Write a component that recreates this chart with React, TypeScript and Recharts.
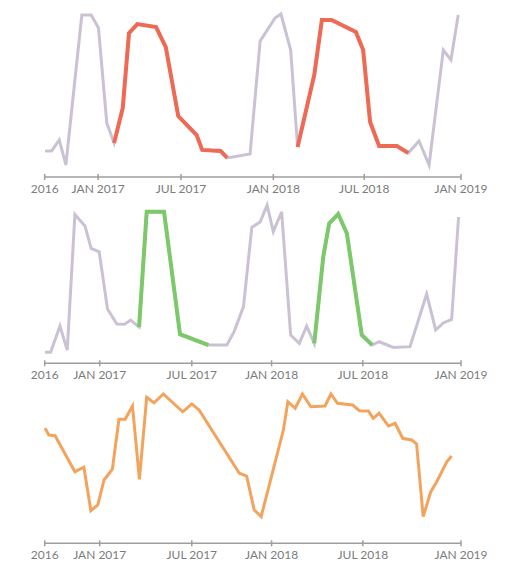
import React from 'react';
import { LineChart, Line, XAxis, YAxis } from 'recharts';

// x is measured in weeks from the first tick, y in percent of each panel's range
const tickLabels = ['2016', 'JAN 2017', 'JUL 2017', 'JAN 2018', 'JUL 2018', 'JAN 2019'];
const topTicks = [0, 15.4, 39.3, 65.9, 92.1, 120];
const lowerTicks = [0, 15.85, 42.4, 65.4, 91.7, 120];

const topWeeks = [0.1, 2.0, 4.2, 6.1, 10.7, 13.4, 15.5, 17.9, 20.0, 22.5, 24.3, 26.7, 32.1, 34.9, 38.5, 43.8, 45.4, 50.7, 52.6, 59.2, 62.1, 66.4, 68.1, 70.9, 72.9, 77.7, 79.9, 82.7, 89.7, 91.8, 93.8, 96.4, 101.5, 104.8, 107.9, 110.8, 114.9, 117.1, 119.2];
const topValues = [15.6, 15.6, 22.2, 7.2, 97.0, 97.0, 89.2, 32.3, 20.4, 41.3, 86.2, 91.6, 89.8, 77.8, 36.5, 25.1, 16.2, 15.6, 11.4, 13.8, 81.4, 95.2, 97.6, 76.0, 18.0, 61.1, 94.0, 94.0, 86.8, 76.0, 32.9, 18.6, 18.6, 14.4, 21.6, 7.2, 76.0, 70.1, 97.0];
const topHighlights = [[8, 18], [24, 33]];

const midWeeks = [0.1, 1.7, 4.4, 6.5, 8.7, 11.6, 13.4, 15.7, 18.1, 20.8, 23.0, 24.8, 27.2, 29.4, 34.4, 39.0, 47.2, 52.5, 54.6, 57.3, 59.7, 62.1, 64.1, 65.9, 68.3, 70.9, 73.4, 75.5, 77.7, 80.3, 82.0, 84.6, 87.1, 91.4, 94.4, 96.4, 100.5, 105.3, 110.1, 112.7, 114.9, 117.3, 119.3];
const midValues = [6.7, 6.7, 22.8, 8.1, 91.1, 84.1, 70.4, 68.3, 33.3, 24.1, 23.9, 26.5, 22.2, 92.8, 92.8, 17.8, 11.2, 11.2, 19.4, 34.7, 83.3, 86.5, 96.9, 80.6, 92.8, 17.3, 12.2, 22.8, 12.2, 65.3, 85.7, 91.4, 79.6, 17.3, 11.2, 13.2, 9.7, 10.2, 42.4, 20.4, 24.7, 26.9, 89.6];
const midHighlights = [[12, 16], [28, 34]];

const lowWeeks = [0.1, 1.2, 3.0, 8.7, 11.3, 13.3, 15.3, 17.1, 19.5, 21.4, 23.2, 25.3, 27.3, 29.4, 31.5, 34.2, 39.8, 42.4, 44.5, 56.1, 58.2, 60.4, 62.4, 68.8, 70.1, 72.2, 74.3, 76.7, 80.8, 82.5, 84.4, 88.8, 90.7, 93.3, 94.7, 96.4, 99.1, 101.0, 103.2, 105.8, 107.2, 109.1, 111.3, 113.0, 115.9, 117.3];
const lowValues = [75.0, 70.6, 70.2, 46.7, 49.6, 21.3, 25.0, 41.3, 48.3, 80.9, 80.9, 89.6, 41.7, 95.2, 91.7, 97.4, 85.8, 90.9, 87.0, 45.7, 43.9, 21.7, 17.4, 73.9, 92.4, 88.1, 97.4, 89.1, 89.6, 97.4, 91.3, 90.2, 86.5, 86.3, 81.5, 84.8, 76.5, 78.3, 68.5, 67.4, 64.8, 17.4, 33.7, 40.2, 53.2, 56.9];

const BASE = '#cbc1d4';
const RED = '#ef6a55';
const GREEN = '#7cc86a';
const ORANGE = '#f4a35d';

const toRows = (weeks: number[], values: number[]) => weeks.map((w, i) => ({ w, v: values[i] }));

const AxisTick = (props: any) => {
  const { x, y, payload } = props;
  const idx = props.index;
  return (
    <g>
      <line x1={x} x2={x} y1={y - 3} y2={y + 3} stroke="#9e9e9e" strokeWidth={1.5} />
      <text x={x} y={y + 16} textAnchor="middle" fontFamily="Lato" fontSize={12} fill="#7b7b7b">
        {tickLabels[idx] ?? payload.value}
      </text>
    </g>
  );
};

interface PanelProps {
  top: number;
  height: number;
  ticks: number[];
  rows: { w: number; v: number }[];
  baseColor: string;
  baseWidth: number;
  highlights?: number[][];
  highlightColor?: string;
}

const Panel: React.FC<PanelProps> = ({ top, height, ticks, rows, baseColor, baseWidth, highlights = [], highlightColor }) => (
  <div style={{ position: 'absolute', left: 0, top }}>
    <LineChart width={510} height={height} margin={{ top: 10, right: 49, bottom: 0, left: 44.7 }}>
      <XAxis
        dataKey="w"
        type="number"
        domain={[0, 120]}
        ticks={ticks}
        interval={0}
        height={23}
        tickSize={0}
        tickMargin={0}
        tickLine={false}
        axisLine={{ stroke: '#9e9e9e', strokeWidth: 1.5 }}
        tick={<AxisTick />}
      />
      <YAxis hide type="number" domain={[0, 100]} />
      <Line data={rows} dataKey="v" type="linear" stroke={baseColor} strokeWidth={baseWidth} dot={false} activeDot={false} isAnimationActive={false} />
      {highlights.map(([a, b], i) => (
        <Line
          key={i}
          data={rows.slice(a, b + 1)}
          dataKey="v"
          type="linear"
          stroke={highlightColor}
          strokeWidth={4}
          dot={false}
          activeDot={false}
          isAnimationActive={false}
        />
      ))}
    </LineChart>
  </div>
);

const App: React.FC = () => (
  <div style={{ position: 'absolute', left: 0, top: 0, width: 510, height: 562, overflow: 'hidden', background: '#fff' }}>
    <Panel top={0} height={200} ticks={topTicks} rows={toRows(topWeeks, topValues)} baseColor={BASE} baseWidth={3} highlights={topHighlights} highlightColor={RED} />
    <Panel top={190} height={196.3} ticks={lowerTicks} rows={toRows(midWeeks, midValues)} baseColor={BASE} baseWidth={3} highlights={midHighlights} highlightColor={GREEN} />
    <Panel top={380} height={186.3} ticks={lowerTicks} rows={toRows(lowWeeks, lowValues)} baseColor={ORANGE} baseWidth={3} />
  </div>
);

export default App;
